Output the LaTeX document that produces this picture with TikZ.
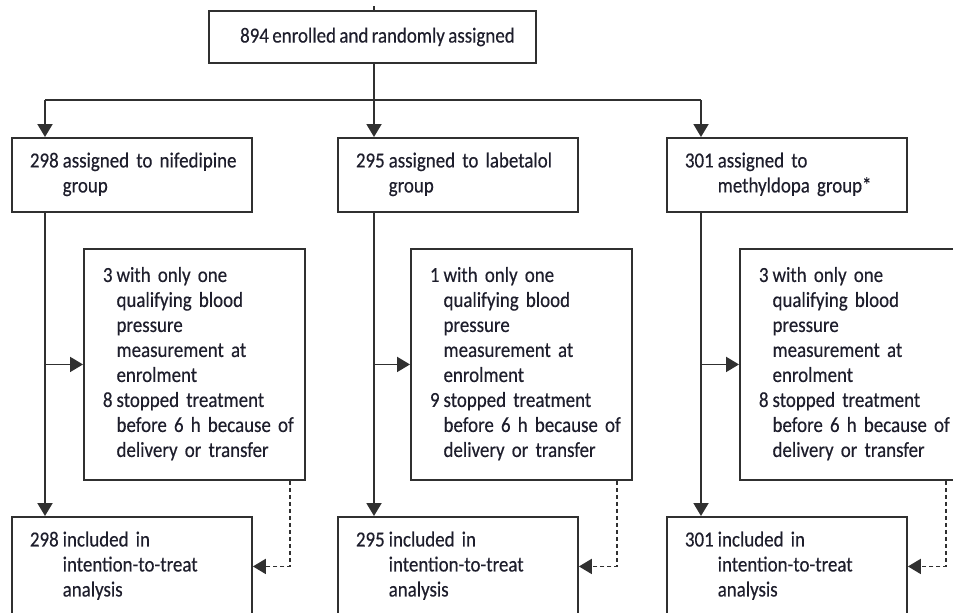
\documentclass[tikz,border=0pt]{standalone}
\usepackage{fontspec}
\setmainfont{Carlito}[FakeStretch=0.88, FakeBold=0.4, WordSpace=0.8]
\usetikzlibrary{arrows.meta,calc}
\definecolor{linec}{HTML}{303030}
\definecolor{textc}{HTML}{1E1E2C}
\newcommand{\flowfont}{\fontsize{21.5}{25}\selectfont}
% count in the first column, hanging description in the second
\newcommand{\hangrows}[1]{\noindent\begin{tabular}{@{}l@{\hspace{4pt}}l@{}}#1\end{tabular}}

\begin{document}
\begin{tikzpicture}[x=1pt,y=-1pt,
  box/.style={draw=linec, line width=1.9pt, anchor=north west, text=textc,
              font=\flowfont, inner ysep=0pt},
  groupbox/.style={box, minimum width=240pt, minimum height=74pt,
                   inner xsep=18pt, text width=204pt, align=left},
  exclbox/.style={box, minimum width=221pt, minimum height=231pt,
                  inner xsep=19pt, text width=183pt, align=left},
  outbox/.style={box, minimum width=240pt, minimum height=99pt,
                 inner xsep=18pt, text width=204pt, align=left},
  flow/.style={draw=linec, line width=1.9pt},
  arr/.style={flow, -{Triangle[length=13pt,width=15pt]}},
  darr/.style={arr, dash pattern=on 4pt off 3pt},
]
\clip (0,0) rectangle (953,613);

% enrolment
\node[box, minimum width=327pt, minimum height=52pt, align=center] (enr) at (208,10)
  {\hspace*{10pt}894 enrolled and randomly assigned};

% allocation
\node[groupbox] (nif) at (11,137)  {\hangrows{298 & assigned to nifedipine\\ & group}};
\node[groupbox] (lab) at (337,137) {\hangrows{295 & assigned to labetalol\\ & group}};
\node[groupbox] (met) at (666,137) {\hangrows{301 & assigned to\\ & methyldopa group*}};

% exclusions
\node[exclbox] (nifex) at (83,248) {\hangrows{3 & with only one\\ & qualifying blood\\ & pressure\\
  & measurement at\\ & enrolment\\ 8 & stopped treatment\\ & before 6 h because of\\ & delivery or transfer}};
\node[exclbox] (labex) at (410,248) {\hangrows{1 & with only one\\ & qualifying blood\\ & pressure\\
  & measurement at\\ & enrolment\\ 9 & stopped treatment\\ & before 6 h because of\\ & delivery or transfer}};
\node[exclbox] (metex) at (739,248) {\hangrows{3 & with only one\\ & qualifying blood\\ & pressure\\
  & measurement at\\ & enrolment\\ 8 & stopped treatment\\ & before 6 h because of\\ & delivery or transfer}};

% analysis
\node[outbox] (nifout) at (11,516)  {\hangrows{298 & included in\\ & intention-to-treat\\ & analysis}};
\node[outbox] (labout) at (337,516) {\hangrows{295 & included in\\ & intention-to-treat\\ & analysis}};
\node[outbox] (metout) at (666,516) {\hangrows{301 & included in\\ & intention-to-treat\\ & analysis}};

% trunk positions on the split line
\coordinate (t1) at (45,100);
\coordinate (t2) at (374,100);
\coordinate (t3) at (701,100);
\coordinate (stub) at (374,6);

\draw[flow] (stub) -- (enr.north -| stub);
\draw[flow] (enr.south -| t2) -- (t2);
\draw[flow] (t1) -- (t3);
\draw[arr] (t1) -- (t1 |- nif.north);
\draw[arr] (t2) -- (t2 |- lab.north);
\draw[arr] (t3) -- (t3 |- met.north);

\draw[arr] (t1 |- nif.south) -- (t1 |- nifout.north);
\draw[arr] (t2 |- lab.south) -- (t2 |- labout.north);
\draw[arr] (t3 |- met.south) -- (t3 |- metout.north);

\draw[arr] (t1 |- nifex.west) -- (nifex.west);
\draw[arr] (t2 |- labex.west) -- (labex.west);
\draw[arr] (t3 |- metex.west) -- (metex.west);

% excluded patients still counted in the analysis
\coordinate (d1) at ($(nifex.south east)+(-16,0)$);
\coordinate (d2) at ($(labex.south east)+(-16,0)$);
\coordinate (d3) at ($(metex.south east)+(-16,0)$);
\draw[darr] (d1) |- (nifout.east);
\draw[darr] (d2) |- (labout.east);
\draw[darr] (d3) |- (metout.east);
\end{tikzpicture}
\end{document}
